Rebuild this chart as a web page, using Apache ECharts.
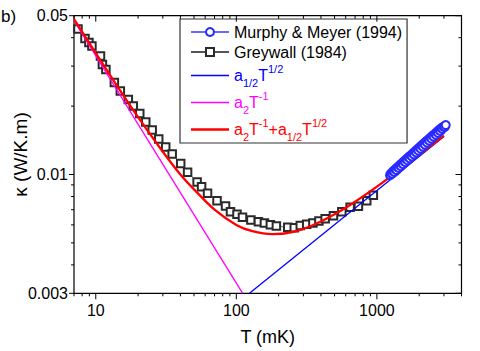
<!DOCTYPE html>
<html><head><meta charset="utf-8">
<script src="https://cdn.jsdelivr.net/npm/echarts@6/dist/echarts.min.js"></script>
<style>html,body{margin:0;padding:0;background:#fff}#c{width:480px;height:351px}</style>
</head><body><div id="c"></div>
<script>
// ---- data ----
const greywallT = [7.47, 8.38, 8.94, 9.39, 10.8, 11.15, 11.8, 13.56, 14.95, 17.04, 18.49, 20.56, 22.68, 25.2, 28.05, 31.45, 34.97, 40.2, 45.0, 52.6, 56.6, 62.4, 72.9, 83.8, 90.9, 101.1, 110.6, 127, 143.6, 158.4, 174.6, 192.7, 232.3, 258.3, 285.1, 316.8, 350.6, 386.9, 428.6, 490.9, 563.2, 644.9, 738.6, 847.2, 943.6];
const greywallK = [0.0437, 0.0397, 0.0381, 0.0368, 0.0332, 0.0305, 0.0290, 0.0254, 0.0233, 0.0214, 0.0200, 0.01854, 0.01702, 0.01569, 0.01432, 0.01321, 0.01230, 0.01117, 0.01024, 0.00926, 0.00884, 0.00828, 0.00767, 0.00726, 0.00686, 0.00669, 0.00649, 0.00630, 0.00619, 0.00611, 0.00601, 0.00593, 0.00586, 0.00583, 0.00596, 0.00604, 0.00612, 0.00624, 0.00639, 0.00659, 0.00686, 0.00718, 0.00724, 0.00766, 0.00811];
const murphyT = [1240, 1262, 1285, 1308, 1331, 1355, 1380, 1405, 1430, 1456, 1482, 1509, 1536, 1564, 1592, 1621, 1650, 1680, 1710, 1741, 1772, 1804, 1837, 1870, 1904, 1938, 1973, 2009, 2045, 2082, 2120, 2158, 2197, 2237, 2277, 2318, 2360, 2403, 2446, 2490, 2535, 2581, 2628, 2675, 2723, 2772, 2822, 2873, 2925, 2978, 3032, 3090];
const murphyK = [0.00993, 0.01012, 0.01008, 0.01035, 0.01026, 0.01056, 0.01046, 0.01078, 0.01068, 0.01100, 0.01088, 0.01122, 0.01110, 0.01146, 0.01132, 0.01168, 0.01155, 0.01192, 0.01178, 0.01216, 0.01202, 0.01240, 0.01226, 0.01265, 0.01250, 0.01290, 0.01275, 0.01317, 0.01300, 0.01343, 0.01327, 0.01370, 0.01353, 0.01398, 0.01380, 0.01425, 0.01408, 0.01454, 0.01437, 0.01482, 0.01466, 0.01512, 0.01495, 0.01540, 0.01525, 0.01572, 0.01555, 0.01600, 0.01588, 0.01625, 0.01620, 0.01650];
const halfPowT = [124, 3000];
const halfPowK = [0.003, 0.0147];
const invPowT = [7, 111];
const invPowK = [0.0476, 0.003];
const sumT = [7, 10, 15, 20, 30, 40, 50, 70, 100, 130, 180, 250, 350, 500, 700, 1000, 1500, 2000, 3000];
const sumK = [0.0483, 0.0342, 0.0233, 0.0179, 0.0126, 0.0100, 0.0086, 0.0070, 0.0060, 0.00563, 0.00546, 0.00558, 0.00598, 0.00668, 0.00759, 0.00884, 0.01064, 0.0122, 0.01484];
const xTickLabels = [10, 100, 1000];
const yTickLabels = [0.003, 0.01, 0.05];
const xMinorTicks = [7, 8, 9, 20, 30, 40, 50, 60, 70, 80, 90, 200, 300, 400, 500, 600, 700, 800, 900, 2000, 3000, 4000];
const yMinorTicks = [0.004, 0.005, 0.006, 0.007, 0.008, 0.009, 0.02, 0.03, 0.04];
const X_MIN = 7, X_MAX = 4000, Y_MIN = 0.003, Y_MAX = 0.05;

const FONT = 'Liberation Sans, Arial, Helvetica, sans-serif';
const zip = (a, b) => a.map((v, i) => [v, b[i]]);

function tickSeries(values, side, len, dir) {
  const data = values.map(v => side === 'bottom' ? [v, Y_MIN] : side === 'top' ? [v, Y_MAX] : side === 'left' ? [X_MIN, v] : [X_MAX, v]);
  return {
    type: 'custom', silent: true, clip: false, z: 20, data,
    renderItem(params, api) {
      const p = api.coord([api.value(0), api.value(1)]);
      let s;
      if (side === 'bottom' || side === 'top') s = { x1: p[0], y1: p[1], x2: p[0], y2: p[1] + dir * len };
      else s = { x1: p[0], y1: p[1], x2: p[0] + dir * len, y2: p[1] };
      return { type: 'line', shape: s, style: { stroke: '#000', lineWidth: 1 } };
    }
  };
}

const sz = 11;
const rich = {
  bn: { color: '#0000ff', fontSize: 16, lineHeight: 25, fontFamily: FONT },
  bs: { color: '#0000ff', fontSize: sz, lineHeight: 12, verticalAlign: 'bottom', fontFamily: FONT },
  bp: { color: '#0000ff', fontSize: sz, lineHeight: 16, verticalAlign: 'top', fontFamily: FONT },
  mn: { color: '#ff00ff', fontSize: 16, lineHeight: 25, fontFamily: FONT },
  ms: { color: '#ff00ff', fontSize: sz, lineHeight: 12, verticalAlign: 'bottom', fontFamily: FONT },
  mp: { color: '#ff00ff', fontSize: sz, lineHeight: 16, verticalAlign: 'top', fontFamily: FONT },
  rn: { color: '#ff0000', fontSize: 16, lineHeight: 25, fontFamily: FONT },
  rs: { color: '#ff0000', fontSize: sz, lineHeight: 12, verticalAlign: 'bottom', fontFamily: FONT },
  rp: { color: '#ff0000', fontSize: sz, lineHeight: 16, verticalAlign: 'top', fontFamily: FONT }
};
const legendFmt = {
  'a1/2T1/2': '{bn|a}{bs|1/2}{bn|T}{bp|1/2}',
  'a2T-1': '{mn|a}{ms|2}{mn|T}{mp|-1}',
  'a2T-1+a1/2T1/2': '{rn|a}{rs|2}{rn|T}{rp|-1}{rn|+a}{rs|1/2}{rn|T}{rp|1/2}'
};
const thinIcon = 'path://M0,0H38V1.3H0Z';
const thickIcon = 'path://M0,0H38V2.3H0Z';

const chart = echarts.init(document.getElementById('c'), null, { renderer: 'svg' });
chart.setOption({
  animation: false,
  backgroundColor: '#fff',
  textStyle: { fontFamily: FONT },
  grid: { left: 74, right: 18.5, top: 15.7, bottom: 57.7, outerBoundsMode: 'none', containLabel: false,
    show: true, borderColor: '#000', borderWidth: 1.2, backgroundColor: 'transparent' },
  xAxis: {
    type: 'log', logBase: 10, min: X_MIN, max: X_MAX,
    name: 'T (mK)', nameLocation: 'middle', nameGap: 35, nameMoveOverlap: false,
    nameTextStyle: { fontSize: 18, color: '#000', fontFamily: FONT },
    axisLine: { show: false }, axisTick: { show: false }, splitLine: { show: false }, minorTick: { show: false },
    axisLabel: {
      margin: 9, fontSize: 16, color: '#000', fontFamily: FONT, showMinLabel: true, showMaxLabel: true,
      formatter: v => { const r = Math.round(v); return xTickLabels.includes(r) ? String(r) : ''; }
    }
  },
  yAxis: {
    type: 'log', logBase: 10, min: Y_MIN, max: Y_MAX,
    name: 'κ (W/K.m)', nameLocation: 'middle', nameGap: 44, nameMoveOverlap: false,
    nameTextStyle: { fontSize: 19, color: '#000', fontFamily: FONT },
    axisLine: { show: false }, axisTick: { show: false }, splitLine: { show: false }, minorTick: { show: false },
    axisLabel: {
      margin: 6, fontSize: 16, color: '#000', fontFamily: FONT, showMinLabel: true, showMaxLabel: true,
      formatter: v => { const r = +Number(v).toPrecision(3); return yTickLabels.some(t => Math.abs(t - r) < 1e-9) ? String(r) : ''; }
    }
  },
  legend: {
    orient: 'vertical', left: 180, top: 19,
    padding: [4, 5, 1, 10], itemGap: 2, itemWidth: 38, itemHeight: 10, symbolKeepAspect: true,
    backgroundColor: '#fff', borderColor: '#333', borderWidth: 1.2,
    textStyle: { fontSize: 16, color: '#000', fontFamily: FONT, lineHeight: 18, rich },
    formatter: name => legendFmt[name] || name,
    data: [
      'Murphy & Meyer (1994)',
      'Greywall (1984)',
      { name: 'a1/2T1/2', icon: thinIcon },
      { name: 'a2T-1', icon: thinIcon },
      { name: 'a2T-1+a1/2T1/2', icon: thickIcon }
    ]
  },
  graphic: [{ type: 'text', left: 1, top: 8, style: { text: 'b)', fontSize: 17, fill: '#000', fontFamily: FONT } }],
  series: [
    { name: 'Greywall (1984)', type: 'line', data: zip(greywallT, greywallK), symbol: 'emptyRect', symbolSize: 7.5,
      itemStyle: { color: '#2a2a2a', borderWidth: 0.9 }, lineStyle: { color: '#555', width: 0.8 }, z: 2 },
    { name: 'a1/2T1/2', type: 'line', data: zip(halfPowT, halfPowK), symbol: 'none',
      itemStyle: { color: '#0000ff' }, lineStyle: { color: '#0000ff', width: 1.3 }, z: 3 },
    { name: 'a2T-1', type: 'line', data: zip(invPowT, invPowK), symbol: 'none',
      itemStyle: { color: '#ff00ff' }, lineStyle: { color: '#ff00ff', width: 1.3 }, z: 3 },
    { name: 'a2T-1+a1/2T1/2', type: 'line', data: zip(sumT, sumK), symbol: 'none', smooth: 0.3,
      itemStyle: { color: '#ff0000' }, lineStyle: { color: '#ff0000', width: 2.3 }, z: 4 },
    { name: 'Murphy & Meyer (1994)', type: 'line', data: zip(murphyT, murphyK), symbol: 'emptyCircle', symbolSize: 8,
      itemStyle: { color: '#2a2aff', borderWidth: 1.3 }, lineStyle: { color: '#6a6aff', width: 1 }, z: 5 },
    tickSeries(xTickLabels, 'bottom', 6, 1),
    tickSeries(xMinorTicks, 'bottom', 3, 1),
    tickSeries(xTickLabels, 'top', 6, 1),
    tickSeries(xMinorTicks, 'top', 3, 1),
    tickSeries(yTickLabels, 'left', 5, -1),
    tickSeries(yMinorTicks, 'left', 3, -1),
    tickSeries(yTickLabels, 'right', 6, -1),
    tickSeries(yMinorTicks, 'right', 3, -1)
  ]
});
</script></body></html>
